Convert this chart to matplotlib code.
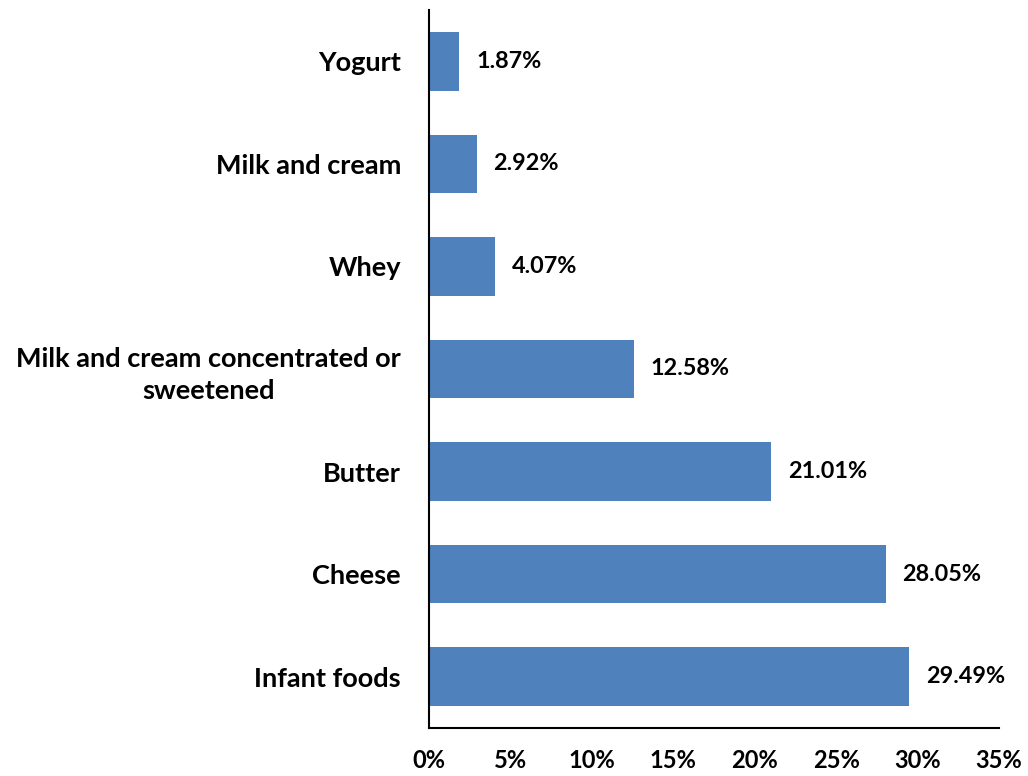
import matplotlib.pyplot as plt
import matplotlib.transforms as mtrans

categories = ["Infant foods", "Cheese", "Butter",
              "Milk and cream concentrated or\nsweetened",
              "Whey", "Milk and cream", "Yogurt"]
shares = [29.49, 28.05, 21.01, 12.58, 4.07, 2.92, 1.87]
xticks = [0, 5, 10, 15, 20, 25, 30, 35]

plt.rcParams['font.family'] = ['Lato', 'DejaVu Sans']
plt.rcParams['font.weight'] = 'bold'

fig = plt.figure(figsize=(10.28, 7.76), dpi=100)
ax = fig.add_axes([0.4173, 0.062, 0.5545, 0.925])

ax.barh(range(len(categories)), shares, height=0.57, color="#4F81BD")

for i, v in enumerate(shares):
    ax.annotate(f"{v:.2f}%", (v, i), xytext=(12, 0), textcoords="offset points",
                va="center", ha="left", fontsize=16.8, fontweight="bold")

ax.set_yticks(range(len(categories)))
ax.set_yticklabels(categories, fontsize=19.5, fontweight="bold", ha="center",
                   linespacing=1.38)
ax.tick_params(axis="y", length=0, pad=0)

ax.set_xlim(0, 35)
ax.set_ylim(-0.5, 6.5)
ax.set_xticks(xticks)
ax.set_xticklabels([f"{t}%" for t in xticks], fontsize=17, fontweight="bold")
ax.tick_params(axis="x", length=0, pad=15)

ax.spines["top"].set_visible(False)
ax.spines["right"].set_visible(False)
ax.spines["left"].set_linewidth(1.5)
ax.spines["bottom"].set_linewidth(1.5)

fig.canvas.draw()
# centred labels, shifted so their right edge sits 28 px left of the axis
for lab in ax.get_yticklabels():
    bb = lab.get_window_extent()
    lab.set_transform(lab.get_transform() + mtrans.Affine2D().translate(-bb.width / 2 - 28, 0))

fig.savefig("out.png", dpi=100)
